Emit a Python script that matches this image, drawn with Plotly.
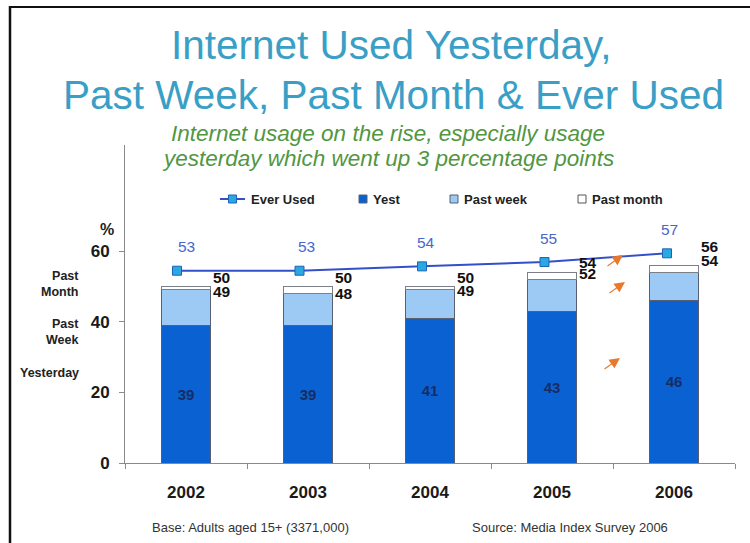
import plotly.graph_objects as go

# ---- data -------------------------------------------------------------
years = ["2002", "2003", "2004", "2005", "2006"]
ever_used = [53, 53, 54, 55, 57]          # % ever used the internet
yesterday = [39, 39, 41, 43, 46]          # % used yesterday
past_week = [49, 48, 49, 52, 54]          # % used in the past week (cumulative)
past_month = [50, 50, 50, 54, 56]         # % used in the past month (cumulative)

title_lines = ["Internet Used Yesterday,", "Past Week, Past Month & Ever Used"]
subtitle_lines = ["Internet usage on the rise, especially usage",
                  "yesterday which went up 3 percentage points"]
y_ticks = [0, 20, 40, 60]

# ---- styling ----------------------------------------------------------
FONT = "Arial, Liberation Sans, Helvetica, sans-serif"
C_YEST = "#0A62D2"
C_WEEK = "#9CCAF4"
C_MONTH = "#FFFFFF"
C_EDGE = "#566072"
C_LINE = "#3350C8"
C_MARK = "#2AA8E2"
C_TITLE = "#3A9FC6"
C_SUB = "#52963F"
C_ARROW = "#E8792C"

# pixel helpers for the page layout (plot area spans x 125..735, y 145..463)
L, R, T, B = 125, 15, 145, 80
W, H = 750, 543
PW, PH = W - L - R, H - T - B


def px(x):
    return (x - L) / PW


def py(y):
    return (H - B - y) / PH


# stacked increments derived from the cumulative figures
week_part = [w - y for w, y in zip(past_week, yesterday)]
month_part = [m - w for m, w in zip(past_month, past_week)]

fig = go.Figure()

fig.add_trace(go.Bar(
    x=years, y=yesterday, name="Yest", width=0.4,
    marker=dict(color=C_YEST, line=dict(color=C_EDGE, width=1)),
    texttemplate="<b>%{y}</b>", textposition="inside", insidetextanchor="middle",
    textfont=dict(family=FONT, size=15, color="#172C66"),
    textangle=0, showlegend=False,
))
fig.add_trace(go.Bar(
    x=years, y=week_part, name="Past week", width=0.4,
    marker=dict(color=C_WEEK, line=dict(color=C_EDGE, width=1)),
    showlegend=False, hoverinfo="skip",
))
fig.add_trace(go.Bar(
    x=years, y=month_part, name="Past month", width=0.4,
    marker=dict(color=C_MONTH, line=dict(color="#7A7F88", width=1)),
    showlegend=False, hoverinfo="skip",
))

# ever-used line sits on its own (unlabelled) scale
fig.add_trace(go.Scatter(
    x=years, y=ever_used, name="Ever Used", mode="lines+markers",
    xaxis="x2", yaxis="y2",
    line=dict(color=C_LINE, width=2),
    marker=dict(symbol="square", size=9, color=C_MARK,
                line=dict(color="#1E63B8", width=1)),
    showlegend=False,
))

ann = []

# title & subtitle
for txt, cx, cy in zip(title_lines, [391, 393], [45, 95]):
    ann.append(dict(text=txt, x=px(cx), y=py(cy), xref="paper", yref="paper",
                    showarrow=False, xanchor="center", yanchor="middle",
                    font=dict(family=FONT, size=40.5, color=C_TITLE)))
for txt, cx, cy in zip(subtitle_lines, [388, 388], [133, 158]):
    ann.append(dict(text="<i>" + txt + "</i>", x=px(cx), y=py(cy),
                    xref="paper", yref="paper", showarrow=False,
                    xanchor="center", yanchor="middle",
                    font=dict(family=FONT, size=22.5, color=C_SUB)))

# ever-used value labels
ever_shift = [9, 7, 4, 4, 2]
for i, (v, dx) in enumerate(zip(ever_used, ever_shift)):
    ann.append(dict(text=str(v), x=i, y=v, xref="x2", yref="y2",
                    showarrow=False, yshift=24, xshift=dx, yanchor="middle",
                    font=dict(family=FONT, size=15.5, color="#4A66CC")))

# cumulative totals beside each bar
week_lift = [-2, 0, -1, 6, 12]
month_lift = [9, 9, 9, 10, 19]
for i, (w, m) in enumerate(zip(past_week, past_month)):
    ann.append(dict(text=f"<b>{w}</b>", x=i + 0.2, y=w, xref="x", yref="y",
                    showarrow=False, xanchor="left", yanchor="middle",
                    xshift=1, yshift=week_lift[i],
                    font=dict(family=FONT, size=15.5, color="#111111")))
    ann.append(dict(text=f"<b>{m}</b>", x=i + 0.2, y=m, xref="x", yref="y",
                    showarrow=False, xanchor="left", yanchor="middle",
                    xshift=1, yshift=month_lift[i],
                    font=dict(family=FONT, size=15.5, color="#111111")))

# orange growth arrows
for hx, hy in [(623, 255), (625, 282), (620, 358)]:
    ann.append(dict(text="", x=px(hx), y=py(hy), xref="paper", yref="paper",
                    showarrow=True, ax=-17, ay=12, axref="pixel", ayref="pixel",
                    arrowhead=2, arrowsize=1.9, arrowwidth=1.1,
                    arrowcolor=C_ARROW))

# row labels on the left
for txt, cy in [("Past<br>Month", 284), ("Past<br>Week", 332), ("Yesterday", 373)]:
    ann.append(dict(text=f"<b>{txt}</b>", x=px(81), y=py(cy), xref="paper",
                    yref="paper", showarrow=False, xanchor="right",
                    yanchor="middle", align="right",
                    font=dict(family=FONT, size=12.5, color="#222222")))
ann.append(dict(text="<b>%</b>", x=px(107), y=py(229), xref="paper", yref="paper",
                xanchor="center", yanchor="middle",
                showarrow=False, font=dict(family=FONT, size=16, color="#222222")))

# footer notes
ann.append(dict(text="Base: Adults aged 15+ (3371,000)", x=px(150), y=py(527),
                xref="paper", yref="paper", showarrow=False,
                xanchor="left", yanchor="middle",
                font=dict(family=FONT, size=13, color="#333333")))
ann.append(dict(text="Source: Media Index Survey 2006", x=px(470), y=py(527),
                xref="paper", yref="paper", showarrow=False,
                xanchor="left", yanchor="middle",
                font=dict(family=FONT, size=13, color="#333333")))

# legend drawn in the plot area
leg_y = py(199)
shapes = [
    dict(type="line", xref="paper", yref="paper", x0=px(220), x1=px(245),
         y0=leg_y, y1=leg_y, line=dict(color=C_LINE, width=2)),
    dict(type="rect", xref="paper", yref="paper", x0=px(228.5), x1=px(236.5),
         y0=py(203), y1=py(195), fillcolor=C_MARK, line=dict(color="#1E63B8", width=1)),
]
for x0, col, edge in [(359, C_YEST, C_EDGE), (450, C_WEEK, C_EDGE), (578, C_MONTH, "#555555")]:
    shapes.append(dict(type="rect", xref="paper", yref="paper", x0=px(x0), x1=px(x0 + 8),
                       y0=py(203), y1=py(195), fillcolor=col, line=dict(color=edge, width=1)))
for txt, x0 in [("Ever Used", 249), ("Yest", 371), ("Past week", 462), ("Past month", 590)]:
    ann.append(dict(text=f"<b>{txt}</b>", x=px(x0), y=leg_y, xref="paper", yref="paper",
                    showarrow=False, xanchor="left", yanchor="middle",
                    font=dict(family=FONT, size=13, color="#222222")))

# page frame (top and left edges)
shapes.append(dict(type="line", xref="paper", yref="paper", x0=px(10), x1=px(752),
                   y0=py(7), y1=py(7), line=dict(color="#111111", width=2)))
shapes.append(dict(type="line", xref="paper", yref="paper", x0=px(10), x1=px(10),
                   y0=py(6), y1=py(545), line=dict(color="#111111", width=2.5)))

hidden_axis = dict(showline=False, showgrid=False, zeroline=False,
                   showticklabels=False, ticks="")

fig.update_layout(
    width=W, height=H,
    margin=dict(l=L, r=R, t=T, b=B),
    paper_bgcolor="white", plot_bgcolor="white",
    barmode="stack",
    showlegend=False,
    annotations=ann,
    shapes=shapes,
    xaxis=dict(
        type="category", range=[-0.5, 4.5],
        showline=True, linecolor="#8A8A8A", linewidth=1,
        ticks="outside", tickson="boundaries", ticklen=5, tickcolor="#8A8A8A",
        showgrid=False, zeroline=False, ticklabelstandoff=14,
        tickfont=dict(family=FONT, size=17, color="#1A1A1A", weight="bold"),
    ),
    xaxis2=dict(type="category", overlaying="x", side="top",
                range=[-0.4245, 4.555], **hidden_axis),
    yaxis=dict(
        range=[0, 90], tickvals=y_ticks,
        showline=True, linecolor="#8A8A8A", linewidth=1,
        ticks="outside", ticklen=5, tickcolor="#8A8A8A",
        showgrid=False, zeroline=False, ticklabelstandoff=6,
        tickfont=dict(family=FONT, size=17, color="#1A1A1A", weight="bold"),
    ),
    yaxis2=dict(overlaying="y", side="right", range=[8.8, 81.9], **hidden_axis),
)

fig.write_html("out.html")
